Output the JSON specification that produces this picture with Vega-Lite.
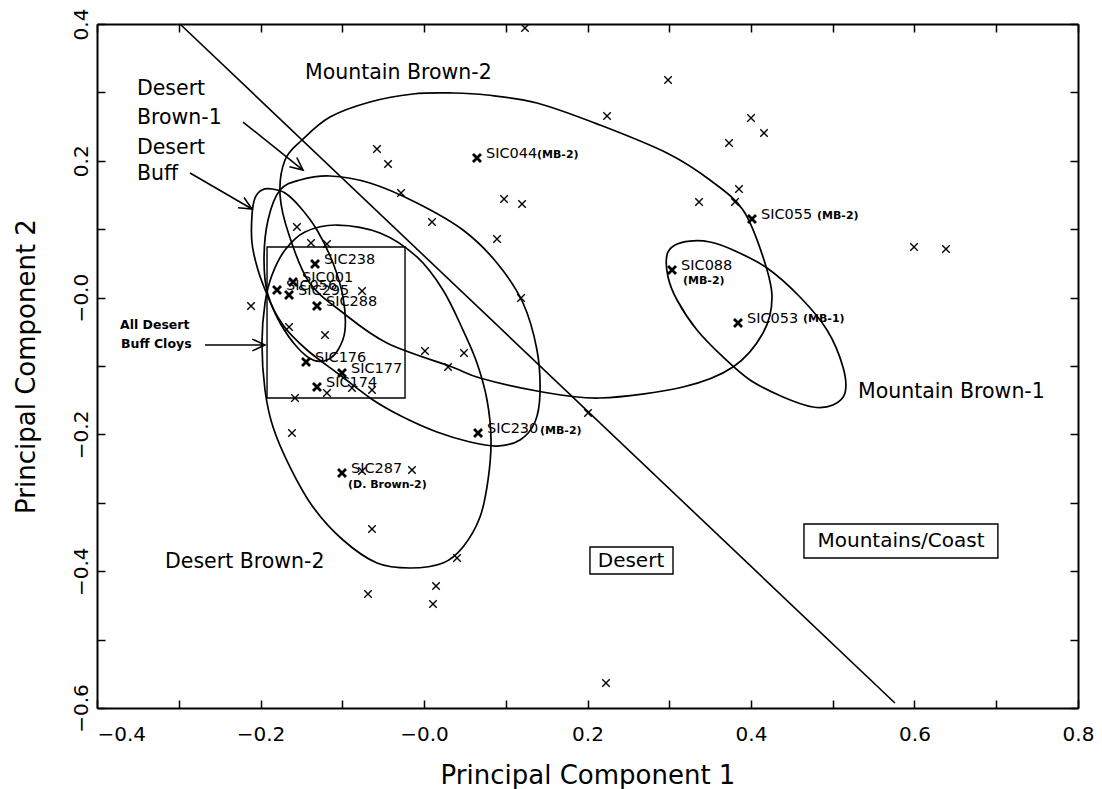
{
  "$schema": "https://vega.github.io/schema/vega-lite/v6.json",
  "width": 981,
  "height": 684,
  "autosize": {"type": "none"},
  "padding": {"left": 97, "top": 24, "right": 24, "bottom": 81},
  "background": "white",
  "config": {"view": {"stroke": null}, "font": "DejaVu Sans"},
  "resolve": {"axis": {"x": "independent", "y": "independent"}},
  "datasets": {
    "ellipses": [
      {"e":"MB2","i":1,"x":-0.1761,"y":0.1500},{"e":"MB2","i":2,"x":-0.1700,"y":0.2012},{"e":"MB2","i":3,"x":-0.1492,"y":0.2304},{"e":"MB2","i":4,"x":-0.1150,"y":0.2640},{"e":"MB2","i":5,"x":-0.0661,"y":0.2860},{"e":"MB2","i":6,"x":-0.0135,"y":0.2977},{"e":"MB2","i":7,"x":0.0355,"y":0.2991},{"e":"MB2","i":8,"x":0.0771,"y":0.2962},{"e":"MB2","i":9,"x":0.1382,"y":0.2845},{"e":"MB2","i":10,"x":0.2153,"y":0.2523},{"e":"MB2","i":11,"x":0.2972,"y":0.2114},{"e":"MB2","i":12,"x":0.3498,"y":0.1719},{"e":"MB2","i":13,"x":0.3902,"y":0.1281},{"e":"MB2","i":14,"x":0.4147,"y":0.0594},{"e":"MB2","i":15,"x":0.4257,"y":0.0009},{"e":"MB2","i":16,"x":0.4147,"y":-0.0518},{"e":"MB2","i":17,"x":0.3780,"y":-0.1015},{"e":"MB2","i":18,"x":0.3168,"y":-0.1307},{"e":"MB2","i":19,"x":0.2153,"y":-0.1468},{"e":"MB2","i":20,"x":0.1382,"y":-0.1366},{"e":"MB2","i":21,"x":0.0685,"y":-0.1175},{"e":"MB2","i":22,"x":0.0343,"y":-0.1015},{"e":"MB2","i":23,"x":-0.0453,"y":-0.0664},{"e":"MB2","i":24,"x":-0.1003,"y":-0.0211},{"e":"MB2","i":25,"x":-0.1407,"y":0.0228},{"e":"MB2","i":26,"x":-0.1651,"y":0.0915},
      {"e":"DB1","i":1,"x":-0.1761,"y":0.1573},{"e":"DB1","i":2,"x":-0.1517,"y":0.1719},{"e":"DB1","i":3,"x":-0.1150,"y":0.1778},{"e":"DB1","i":4,"x":-0.0661,"y":0.1675},{"e":"DB1","i":5,"x":-0.0086,"y":0.1383},{"e":"DB1","i":6,"x":0.0477,"y":0.0988},{"e":"DB1","i":7,"x":0.0893,"y":0.0506},{"e":"DB1","i":8,"x":0.1211,"y":-0.0079},{"e":"DB1","i":9,"x":0.1382,"y":-0.0766},{"e":"DB1","i":10,"x":0.1419,"y":-0.1395},{"e":"DB1","i":11,"x":0.1358,"y":-0.1819},{"e":"DB1","i":12,"x":0.1174,"y":-0.2082},{"e":"DB1","i":13,"x":0.0893,"y":-0.2170},{"e":"DB1","i":14,"x":0.0563,"y":-0.2111},{"e":"DB1","i":15,"x":0.0159,"y":-0.1965},{"e":"DB1","i":16,"x":-0.0257,"y":-0.1746},{"e":"DB1","i":17,"x":-0.0624,"y":-0.1497},{"e":"DB1","i":18,"x":-0.1028,"y":-0.1132},{"e":"DB1","i":19,"x":-0.1431,"y":-0.0766},{"e":"DB1","i":20,"x":-0.1725,"y":-0.0401},{"e":"DB1","i":21,"x":-0.1908,"y":0.0038},{"e":"DB1","i":22,"x":-0.1957,"y":0.0550},{"e":"DB1","i":23,"x":-0.1908,"y":0.1135},
      {"e":"DBF","i":1,"x":-0.2104,"y":0.1208},{"e":"DBF","i":2,"x":-0.2067,"y":0.1456},{"e":"DBF","i":3,"x":-0.1982,"y":0.1573},{"e":"DBF","i":4,"x":-0.1859,"y":0.1588},{"e":"DBF","i":5,"x":-0.1700,"y":0.1529},{"e":"DBF","i":6,"x":-0.1517,"y":0.1325},{"e":"DBF","i":7,"x":-0.1309,"y":0.0988},{"e":"DBF","i":8,"x":-0.1113,"y":0.0506},{"e":"DBF","i":9,"x":-0.0991,"y":0.0009},{"e":"DBF","i":10,"x":-0.0966,"y":-0.0474},{"e":"DBF","i":11,"x":-0.1052,"y":-0.0766},{"e":"DBF","i":12,"x":-0.1187,"y":-0.0912},{"e":"DBF","i":13,"x":-0.1358,"y":-0.0912},{"e":"DBF","i":14,"x":-0.1554,"y":-0.0722},{"e":"DBF","i":15,"x":-0.1761,"y":-0.0371},{"e":"DBF","i":16,"x":-0.1908,"y":0.0009},{"e":"DBF","i":17,"x":-0.2031,"y":0.0404},{"e":"DBF","i":18,"x":-0.2104,"y":0.0798},
      {"e":"DB2","i":1,"x":-0.1064,"y":0.1061},{"e":"DB2","i":2,"x":-0.0538,"y":0.0944},{"e":"DB2","i":3,"x":-0.0086,"y":0.0594},{"e":"DB2","i":4,"x":0.0232,"y":0.0111},{"e":"DB2","i":5,"x":0.0477,"y":-0.0474},{"e":"DB2","i":6,"x":0.0648,"y":-0.0956},{"e":"DB2","i":7,"x":0.0771,"y":-0.1497},{"e":"DB2","i":8,"x":0.0820,"y":-0.2082},{"e":"DB2","i":9,"x":0.0783,"y":-0.2667},{"e":"DB2","i":10,"x":0.0685,"y":-0.3208},{"e":"DB2","i":11,"x":0.0477,"y":-0.3646},{"e":"DB2","i":12,"x":0.0232,"y":-0.3880},{"e":"DB2","i":13,"x":-0.0171,"y":-0.3953},{"e":"DB2","i":14,"x":-0.0575,"y":-0.3880},{"e":"DB2","i":15,"x":-0.0991,"y":-0.3544},{"e":"DB2","i":16,"x":-0.1358,"y":-0.3061},{"e":"DB2","i":17,"x":-0.1639,"y":-0.2477},{"e":"DB2","i":18,"x":-0.1847,"y":-0.1892},{"e":"DB2","i":19,"x":-0.1945,"y":-0.1351},{"e":"DB2","i":20,"x":-0.1982,"y":-0.0664},{"e":"DB2","i":21,"x":-0.1945,"y":-0.0079},{"e":"DB2","i":22,"x":-0.1859,"y":0.0330},{"e":"DB2","i":23,"x":-0.1700,"y":0.0696},{"e":"DB2","i":24,"x":-0.1456,"y":0.0959},
      {"e":"MB1","i":1,"x":0.2972,"y":0.0623},{"e":"MB1","i":2,"x":0.3070,"y":0.0769},{"e":"MB1","i":3,"x":0.3254,"y":0.0827},{"e":"MB1","i":4,"x":0.3498,"y":0.0813},{"e":"MB1","i":5,"x":0.3780,"y":0.0696},{"e":"MB1","i":6,"x":0.4196,"y":0.0433},{"e":"MB1","i":7,"x":0.4599,"y":0.0009},{"e":"MB1","i":8,"x":0.4930,"y":-0.0474},{"e":"MB1","i":9,"x":0.5125,"y":-0.1015},{"e":"MB1","i":10,"x":0.5150,"y":-0.1395},{"e":"MB1","i":11,"x":0.5003,"y":-0.1570},{"e":"MB1","i":12,"x":0.4758,"y":-0.1599},{"e":"MB1","i":13,"x":0.4391,"y":-0.1453},{"e":"MB1","i":14,"x":0.3988,"y":-0.1205},{"e":"MB1","i":15,"x":0.3657,"y":-0.0868},{"e":"MB1","i":16,"x":0.3339,"y":-0.0474},{"e":"MB1","i":17,"x":0.3095,"y":-0.0035},{"e":"MB1","i":18,"x":0.2985,"y":0.0301}
    ],
    "lines": [
      {"g":"div","i":1,"x":-0.2985,"y":0.4},{"g":"div","i":2,"x":0.576,"y":-0.5927},
      {"g":"a1s","i":1,"x":-0.2214,"y":0.2567},{"g":"a1s","i":2,"x":-0.148,"y":0.1865},
      {"g":"a1h","i":1,"x":-0.1556,"y":0.2048},{"g":"a1h","i":2,"x":-0.148,"y":0.1865},{"g":"a1h","i":3,"x":-0.1646,"y":0.1914},
      {"g":"a2s","i":1,"x":-0.2862,"y":0.1822},{"g":"a2s","i":2,"x":-0.2104,"y":0.1295},
      {"g":"a2h","i":1,"x":-0.2202,"y":0.1463},{"g":"a2h","i":2,"x":-0.2104,"y":0.1295},{"g":"a2h","i":3,"x":-0.2274,"y":0.1313},
      {"g":"a3s","i":1,"x":-0.2679,"y":-0.0693},{"g":"a3s","i":2,"x":-0.1945,"y":-0.0693},
      {"g":"a3h","i":1,"x":-0.210,"y":-0.0607},{"g":"a3h","i":2,"x":-0.1945,"y":-0.0693},{"g":"a3h","i":3,"x":-0.210,"y":-0.0779}
    ],
    "boxes": [
      {"x":-0.192,"x2":-0.0232,"y":0.074,"y2":-0.1468},
      {"x":0.203,"x2":0.3046,"y":-0.3646,"y2":-0.404},
      {"x":0.4648,"x2":0.702,"y":-0.331,"y2":-0.3807}
    ],
    "pts": [
      {"x":0.1235,"y":0.3942},{"x":0.2239,"y":0.2655},{"x":-0.0575,"y":0.2173},{"x":-0.0440,"y":0.1953},{"x":-0.0281,"y":0.1529},{"x":0.0098,"y":0.1105},{"x":0.0979,"y":0.1442},{"x":0.1199,"y":0.1368},{"x":0.0893,"y":0.0857},{"x":0.1187,"y":-0.0006},{"x":0.0012,"y":-0.0781},{"x":0.0489,"y":-0.0810},{"x":0.0294,"y":-0.1015},{"x":0.2985,"y":0.3181},{"x":0.4000,"y":0.2626},{"x":0.4159,"y":0.2406},{"x":0.3731,"y":0.2260},{"x":0.3853,"y":0.1588},{"x":0.3364,"y":0.1398},{"x":0.3804,"y":0.1398},{"x":0.5994,"y":0.0740},{"x":0.6385,"y":0.0711},{"x":-0.1554,"y":0.1032},{"x":-0.1382,"y":0.0798},{"x":-0.1187,"y":0.0784},{"x":-0.0758,"y":0.0096},{"x":-0.2116,"y":-0.0123},{"x":-0.1651,"y":-0.0430},{"x":-0.1211,"y":-0.0547},{"x":-0.1187,"y":-0.1395},{"x":-0.0881,"y":-0.1322},{"x":-0.0636,"y":-0.1351},{"x":-0.1578,"y":-0.1468},{"x":-0.1615,"y":-0.1980},{"x":0.2006,"y":-0.1687},{"x":-0.0147,"y":-0.2520},{"x":-0.0758,"y":-0.2535},{"x":-0.0636,"y":-0.3383},{"x":0.0404,"y":-0.3807},{"x":0.0147,"y":-0.4216},{"x":0.0110,"y":-0.4480},{"x":-0.0685,"y":-0.4333},{"x":0.2226,"y":-0.5635}
    ],
    "samples": [
      {"id":"SIC044","x":0.0648,"y":0.2041},{"id":"SIC055","x":0.4012,"y":0.1149},{"id":"SIC088","x":0.3034,"y":0.0404},{"id":"SIC053","x":0.3841,"y":-0.0371},{"id":"SIC238","x":-0.1333,"y":0.0491},{"id":"SIC001","x":-0.1602,"y":0.0228},{"id":"SIC056","x":-0.1798,"y":0.0111},{"id":"SIC295","x":-0.1651,"y":0.0038},{"id":"SIC288","x":-0.1309,"y":-0.0123},{"id":"SIC176","x":-0.1443,"y":-0.0942},{"id":"SIC177","x":-0.1003,"y":-0.1102},{"id":"SIC174","x":-0.1309,"y":-0.1307},{"id":"SIC230","x":0.0661,"y":-0.1980},{"id":"SIC287","x":-0.1003,"y":-0.2564}
    ],
    "notes": [
      {"t":"(MB-2)","x":0.1382,"y":0.2085},{"t":"(MB-2)","x":0.4807,"y":0.1193},{"t":"(MB-2)","x":0.3168,"y":0.0243},{"t":"(MB-1)","x":0.4636,"y":-0.0313},{"t":"(MB-2)","x":0.1419,"y":-0.1949},{"t":"(D. Brown-2)","x":-0.0930,"y":-0.2745}
    ],
    "regions": [
      {"t":"Mountain Brown-2","x":-0.1456,"y":0.3284},{"t":"Desert","x":-0.3511,"y":0.3049},{"t":"Brown-1","x":-0.3511,"y":0.2626},{"t":"Desert","x":-0.3511,"y":0.2187},{"t":"Buff","x":-0.3511,"y":0.1807},{"t":"Desert Brown-2","x":-0.3168,"y":-0.3865},{"t":"Mountain Brown-1","x":0.5309,"y":-0.1380}
    ],
    "small": [
      {"t":"All Desert","x":-0.3719,"y":-0.0401},{"t":"Buff Cloys","x":-0.3706,"y":-0.0678}
    ],
    "boxtext": [
      {"t":"Desert","x":0.2532,"y":-0.3851},{"t":"Mountains/Coast","x":0.5835,"y":-0.3558}
    ]
  },
  "layer": [
    {
      "data": {"name": "ellipses"},
      "mark": {"type": "line", "interpolate": "cardinal-closed", "stroke": "black", "strokeWidth": 1.7},
      "encoding": {
        "x": {"field": "x", "type": "quantitative", "scale": {"domain": [-0.4, 0.8], "nice": false, "zero": false},
          "axis": {"orient": "bottom", "title": "Principal Component 1", "values": [-0.4,-0.3,-0.2,-0.1,0,0.1,0.2,0.3,0.4,0.5,0.6,0.7,0.8],
            "labelExpr": "abs(round(datum.value*10)) % 2 == 0 ? (abs(datum.value) < 0.001 ? '−0.0' : format(datum.value, '.1f')) : ''",
            "grid": false, "domainColor": "black", "domainWidth": 2, "tickColor": "black", "tickWidth": 1.5, "tickSize": -8,
            "labelFont": "DejaVu Sans", "labelFontSize": 20, "labelColor": "black", "labelPadding": 24, "labelOverlap": false, "labelFlush": false,
            "labelAlign": {"condition": {"test": "datum.value < -0.35", "value": "left"}, "value": "center"},
            "titleFont": "DejaVu Sans", "titleFontSize": 26, "titleFontWeight": "normal", "titleColor": "black", "titlePadding": 18}},
        "y": {"field": "y", "type": "quantitative", "scale": {"domain": [-0.6, 0.4], "nice": false, "zero": false},
          "axis": {"orient": "left", "title": "Principal Component 2", "values": [-0.6,-0.5,-0.4,-0.3,-0.2,-0.1,0,0.1,0.2,0.3,0.4],
            "labelExpr": "abs(round(datum.value*10)) % 2 == 0 ? (abs(datum.value) < 0.001 ? '−0.0' : format(datum.value, '.1f')) : ''",
            "grid": false, "domainColor": "black", "domainWidth": 2, "tickColor": "black", "tickWidth": 1.5, "tickSize": -8,
            "labelFont": "DejaVu Sans", "labelFontSize": 20, "labelColor": "black", "labelPadding": 14, "labelOverlap": false, "labelFlush": false,
            "labelAngle": 270, "labelAlign": "center", "labelBaseline": "bottom",
            "titleFont": "DejaVu Sans", "titleFontSize": 26, "titleFontWeight": "normal", "titleColor": "black", "titlePadding": 32}},
        "detail": {"field": "e"},
        "order": {"field": "i"}
      }
    },
    {
      "data": {"name": "lines"},
      "mark": {"type": "line", "stroke": "black", "strokeWidth": 1.6},
      "encoding": {
        "x": {"field": "x", "type": "quantitative", "axis": {"orient": "top", "labels": false, "title": null, "grid": false, "values": [-0.4,-0.3,-0.2,-0.1,0,0.1,0.2,0.3,0.4,0.5,0.6,0.7,0.8], "domainColor": "black", "domainWidth": 2, "tickColor": "black", "tickWidth": 1.5, "tickSize": -8}},
        "y": {"field": "y", "type": "quantitative", "axis": {"orient": "right", "labels": false, "title": null, "grid": false, "values": [-0.6,-0.5,-0.4,-0.3,-0.2,-0.1,0,0.1,0.2,0.3,0.4], "domainColor": "black", "domainWidth": 2, "tickColor": "black", "tickWidth": 1.5, "tickSize": -8}},
        "detail": {"field": "g"},
        "order": {"field": "i"}
      }
    },
    {
      "data": {"name": "boxes"},
      "mark": {"type": "rect", "fill": null, "filled": false, "stroke": "black", "strokeWidth": 1.4},
      "encoding": {
        "x": {"field": "x", "type": "quantitative", "axis": null}, "x2": {"field": "x2"},
        "y": {"field": "y", "type": "quantitative", "axis": null}, "y2": {"field": "y2"}
      }
    },
    {
      "data": {"name": "pts"},
      "mark": {"type": "point", "shape": "M -1 -1 L 1 1 M -1 1 L 1 -1", "filled": false, "stroke": "black", "strokeWidth": 1.4, "size": 56, "opacity": 1},
      "encoding": {
        "x": {"field": "x", "type": "quantitative", "axis": null},
        "y": {"field": "y", "type": "quantitative", "axis": null}
      }
    },
    {
      "data": {"name": "samples"},
      "mark": {"type": "point", "shape": "M -1 -1 L 1 1 M -1 1 L 1 -1", "filled": false, "stroke": "black", "strokeWidth": 2.8, "size": 64, "opacity": 1},
      "encoding": {
        "x": {"field": "x", "type": "quantitative", "axis": null},
        "y": {"field": "y", "type": "quantitative", "axis": null}
      }
    },
    {
      "data": {"name": "samples"},
      "mark": {"type": "text", "align": "left", "baseline": "middle", "dx": 9, "dy": -4, "font": "DejaVu Sans", "fontSize": 14.5, "color": "black"},
      "encoding": {
        "x": {"field": "x", "type": "quantitative", "axis": null},
        "y": {"field": "y", "type": "quantitative", "axis": null},
        "text": {"field": "id"}
      }
    },
    {
      "data": {"name": "notes"},
      "mark": {"type": "text", "align": "left", "baseline": "middle", "font": "DejaVu Sans", "fontSize": 11, "fontWeight": "bold", "color": "black"},
      "encoding": {
        "x": {"field": "x", "type": "quantitative", "axis": null},
        "y": {"field": "y", "type": "quantitative", "axis": null},
        "text": {"field": "t"}
      }
    },
    {
      "data": {"name": "regions"},
      "mark": {"type": "text", "align": "left", "baseline": "middle", "font": "DejaVu Sans", "fontSize": 20.5, "color": "black"},
      "encoding": {
        "x": {"field": "x", "type": "quantitative", "axis": null},
        "y": {"field": "y", "type": "quantitative", "axis": null},
        "text": {"field": "t"}
      }
    },
    {
      "data": {"name": "small"},
      "mark": {"type": "text", "align": "left", "baseline": "middle", "font": "DejaVu Sans", "fontSize": 12.5, "fontWeight": "bold", "color": "black"},
      "encoding": {
        "x": {"field": "x", "type": "quantitative", "axis": null},
        "y": {"field": "y", "type": "quantitative", "axis": null},
        "text": {"field": "t"}
      }
    },
    {
      "data": {"name": "boxtext"},
      "mark": {"type": "text", "align": "center", "baseline": "middle", "font": "DejaVu Sans", "fontSize": 20, "color": "black"},
      "encoding": {
        "x": {"field": "x", "type": "quantitative", "axis": null},
        "y": {"field": "y", "type": "quantitative", "axis": null},
        "text": {"field": "t"}
      }
    }
  ]
}
